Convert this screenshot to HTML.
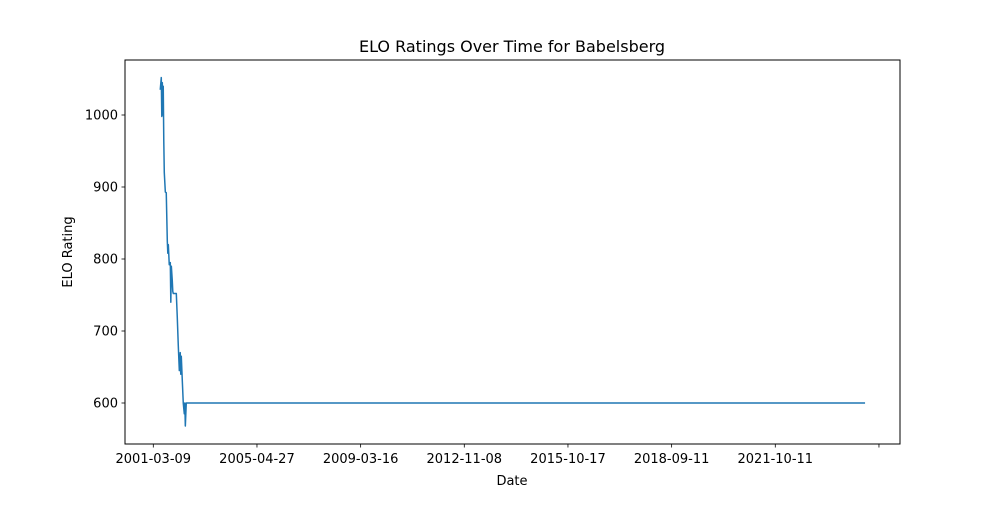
<!DOCTYPE html>
<html><head><meta charset="utf-8"><style>
body{margin:0;background:#fff}
text{font-family:"DejaVu Sans","Liberation Sans",sans-serif;fill:#000}
</style></head><body>
<svg width="1000" height="500" viewBox="0 0 1000 500" xmlns="http://www.w3.org/2000/svg">
<rect width="1000" height="500" fill="#fff"/>
<g id="plot"></g>
</svg>
<script>
const xIndex=[67,77,82,87,92,96,101,106,116,125,135,140,145,154,164,169,174,183,188,193,222,231,241,251,260,265,270,280,289,299,304,309,318,6866];
const elo=[1035,1052,998,1045,1000,1040,965,920,893,892,825,808,820,792,795,740,790,770,755,752,752,720,680,645,670,640,665,630,600,585,600,568,600,600];
const tickIdx=[0,1000,2000,3000,4000,5000,6000,7000];
const tickLabels=["2001-03-09","2005-04-27","2009-03-16","2012-11-08","2015-10-17","2018-09-11","2021-10-11",""];
const yTicks=[600,700,800,900,1000];
const L=125,R=900,T=60,B=444;
const xMin=-273,xMax=7203;
const X=v=>L+(v-xMin)/(xMax-xMin)*(R-L);
const Y=v=>403-(v-600)*0.72;
const ns="http://www.w3.org/2000/svg";
const g=document.getElementById('plot');
function el(t,a,txt){const e=document.createElementNS(ns,t);for(const k in a)e.setAttribute(k,a[k]);if(txt!==undefined)e.textContent=txt;g.appendChild(e);return e;}
const pts=xIndex.map((x,i)=>X(x).toFixed(2)+","+Y(elo[i]).toFixed(2)).join(" ");
const line=el('polyline',{points:pts,fill:'none',stroke:'#1f77b4','stroke-width':1.5,'stroke-linejoin':'round'});


const frame=el('rect',{x:L,y:T,width:R-L,height:B-T,fill:'none',stroke:'#000','stroke-width':1});


tickIdx.forEach((t,i)=>{const x=X(t);
 const tk=el('line',{x1:x,x2:x,y1:B,y2:B+3.5,stroke:'#000','stroke-width':0.8});
 
 
 const lb=el('text',{x:x,y:B+19,'text-anchor':'middle','font-size':13},tickLabels[i]);
 
 
});
yTicks.forEach(v=>{const y=Y(v);
 const tk=el('line',{x1:L-3.5,x2:L,y1:y,y2:y,stroke:'#000','stroke-width':0.8});
 
 
 const lb=el('text',{x:L-7,y:y+4.5,'text-anchor':'end','font-size':13},v);
 
 
});
const ti=el('text',{x:512,y:52,'text-anchor':'middle','font-size':16},'ELO Ratings Over Time for Babelsberg');


const xt=el('text',{x:512,y:485,'text-anchor':'middle','font-size':13},'Date');


const yt=el('text',{x:72,y:252,'text-anchor':'middle','font-size':13,transform:'rotate(-90 72 252)'},'ELO Rating');


</script>
</body></html>
